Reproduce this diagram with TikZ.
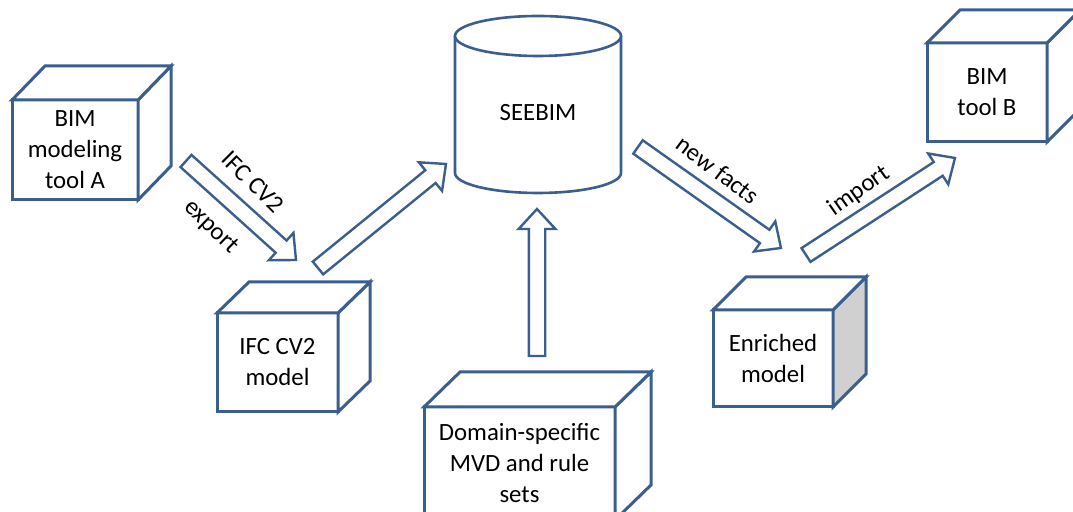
\documentclass[tikz,border=0pt]{standalone}
\usepackage{fontspec}
\setmainfont{Carlito}
\usepackage{tikz}
\usetikzlibrary{calc,positioning}

\definecolor{edgeblue}{HTML}{3A5F8F}
\definecolor{sidegray}{HTML}{D0D0D0}

% fat outlined arrow from #1 to #2
\newcommand{\bigarrow}[2]{%
  \coordinate (ba-h) at ($(#2)!10pt!(#1)$);
  \draw[fatline] ($(#1)!4.1pt!90:(#2)$) -- ($(ba-h)!4.1pt!90:(#2)$)
    -- ($(ba-h)!9.2pt!90:(#2)$) -- (#2) -- ($(ba-h)!9.2pt!-90:(#2)$)
    -- ($(ba-h)!4.1pt!-90:(#2)$) -- ($(#1)!4.1pt!-90:(#2)$) -- cycle;}

% top and side faces behind a front node
\newcommand{\cubefaces}[4][white]{%
  \filldraw[cubeline, fill=#1] (#2.north east) -- ++(#3,#4)
    -- ($(#2.south east)+(#3,#4)$) -- (#2.south east) -- cycle;
  \filldraw[cubeline, fill=white] (#2.north west) -- ++(#3,#4)
    -- ($(#2.north east)+(#3,#4)$) -- (#2.north east) -- cycle;}

\begin{document}
\begin{tikzpicture}[x=0.5pt, y=0.5pt,
  font=\fontsize{12.4}{15.5}\selectfont,
  cubeline/.style={draw=edgeblue, line width=1.5pt, line join=miter},
  front/.style={cubeline, fill=white, outer sep=0pt, inner sep=0pt, align=center},
  fatline/.style={draw=edgeblue, line width=1.2pt, fill=white, line join=miter},
  lbl/.style={inner sep=0pt}]
\path[use as bounding box, clip] (0,0) rectangle (1073,512);

% cubes
\node[front, minimum width=63pt, minimum height=50pt] (toolA) at (75,362) {BIM\\modeling\\tool A};
\cubefaces{toolA}{33}{34}
\node[front, minimum width=60.5pt, minimum height=49.5pt] (ifcmodel) at (277.5,149.5) {IFC CV2\\model};
\cubefaces{ifcmodel}{32}{31}
\node[front, minimum width=95.5pt, minimum height=56.5pt] (domain) at (519.5,48.5) {Domain-specific\\MVD and rule\\sets};
\cubefaces{domain}{36}{35}
\node[front, minimum width=60pt, minimum height=48.5pt] (enriched) at (773,153.5) {Enriched\\model};
\cubefaces[sidegray]{enriched}{33}{33}
\node[front, minimum width=60pt, minimum height=49.5pt] (toolB) at (987,419.5) {BIM\\tool B};
\cubefaces{toolB}{33}{33}

% database
\draw[draw=edgeblue, line width=1.3pt, fill=white] (455,476) -- (455,339)
  arc[start angle=180, end angle=360, x radius=83, y radius=20] -- (621,476);
\draw[draw=edgeblue, line width=1.3pt, fill=white] (538,476) ellipse[x radius=83, y radius=20];
\node (seebim) at (538,399) {SEEBIM};

% arrows
\coordinate (exp-s) at (186,351);
\coordinate (exp-e) at (296,252);
\coordinate (in-s) at (318,244);
\coordinate (in-e) at (446,348);
\coordinate (up-s) at (537,156);
\coordinate (up-e) at (537,303);
\coordinate (nf-s) at (638,365);
\coordinate (nf-e) at (781,264);
\coordinate (im-s) at (806,257);
\coordinate (im-e) at (955,354);
\bigarrow{exp-s}{exp-e}
\bigarrow{in-s}{in-e}
\bigarrow{up-s}{up-e}
\bigarrow{nf-s}{nf-e}
\bigarrow{im-s}{im-e}

% arrow labels
\node[lbl, rotate=-45] (lblifc) at (253,330) {IFC CV2};
\node[lbl, rotate=-44] (lblexp) at (211,285) {export};
\node[lbl, rotate=-37] (lblnew) at (718,342) {new facts};
\node[lbl, rotate=35] (lblimp) at (859,321) {import};
\end{tikzpicture}
\end{document}
